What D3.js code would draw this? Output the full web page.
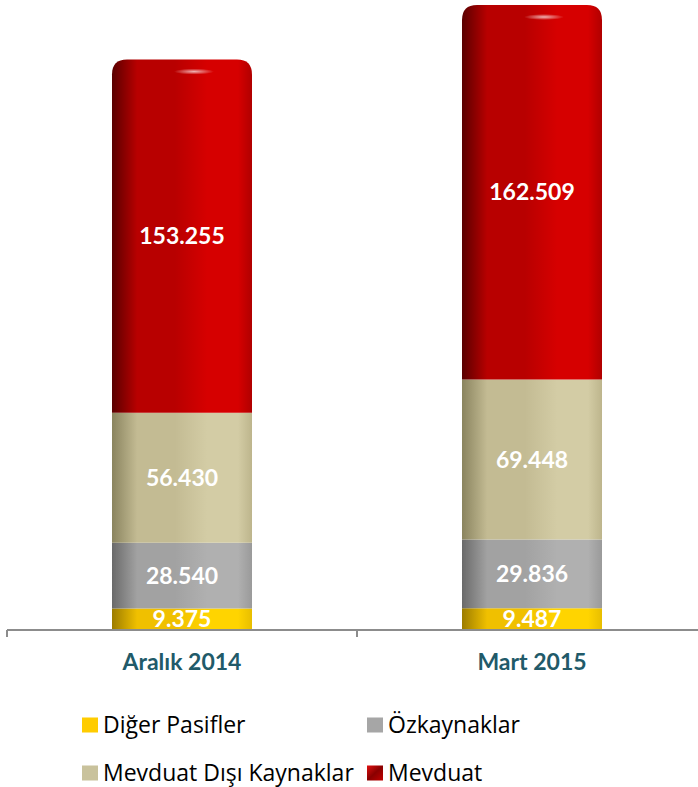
<!DOCTYPE html>
<html>
<head>
<meta charset="utf-8">
<script src="https://cdn.jsdelivr.net/npm/d3@7"></script>
<style>
  body { margin: 0; background: #fff; }
  svg { display: block; }
</style>
</head>
<body>
<div id="chart"></div>
<script>
var categories = ["Aralık 2014", "Mart 2015"],
series = ["Diğer Pasifler", "Özkaynaklar", "Mevduat Dışı Kaynaklar", "Mevduat"],
digerPasifler = [9375, 9487],
ozkaynaklar = [28540, 29836],
mevduatDisi = [56430, 69448],
mevduat = [153255, 162509],
labels = [["9.375", "9.487"], ["28.540", "29.836"], ["56.430", "69.448"], ["153.255", "162.509"]];

var W = 698, H = 787,
BASE_Y = 630,
TOP_Y = 5,
BAR_W = 140,
AXIS_COLOR = "#8c8c8c",
// dark edge, base, light, right edge
SHADES = [
  ["#9c7c00", "#f0c000", "#ffd400", "#e8be00"],
  ["#6a6a6a", "#a2a2a2", "#b0b0b0", "#9a9a9a"],
  ["#8a845f", "#c3bb93", "#d3cca5", "#bdb58c"],
  ["#5a0000", "#b80000", "#d60000", "#b00000"]
],
LEGEND_FILL = ["#ffcc00", "#a6a6a6", "#c9c29c", "url(#leg-red)"];

var values = [digerPasifler, ozkaynaklar, mevduatDisi, mevduat];

var rows = categories.map(function(c, i) {
  var r = { cat: c };
  series.forEach(function(s, j) { r[s] = values[j][i]; });
  return r;
});
var stacked = d3.stack().keys(series)(rows);

var x = d3.scaleBand().domain(categories).range([7, 707]);
var y = d3.scaleLinear()
  .domain([0, d3.max(rows, function(r) { return d3.sum(series, function(s) { return r[s]; }); })])
  .range([BASE_Y, TOP_Y]);

var svg = d3.select("#chart").append("svg")
  .attr("width", W)
  .attr("height", H);

var defs = svg.append("defs");
SHADES.forEach(function(sh, j) {
  var g = defs.append("linearGradient").attr("id", "grad" + j)
    .attr("x1", "0%").attr("x2", "100%").attr("y1", "0%").attr("y2", "0%");
  [[0, sh[0]], [0.18, sh[1]], [0.45, sh[1]], [0.68, sh[2]], [0.9, sh[2]], [1, sh[3]]]
    .forEach(function(st) {
      g.append("stop").attr("offset", st[0]).attr("stop-color", st[1]);
    });
});
var lr = defs.append("linearGradient").attr("id", "leg-red")
  .attr("x1", "0%").attr("x2", "100%").attr("y1", "0%").attr("y2", "100%");
lr.append("stop").attr("offset", 0).attr("stop-color", "#e01010");
lr.append("stop").attr("offset", 0.5).attr("stop-color", "#8a0000");
lr.append("stop").attr("offset", 1).attr("stop-color", "#c00000");
var hl = defs.append("radialGradient").attr("id", "glare");
hl.append("stop").attr("offset", 0).attr("stop-color", "#fff").attr("stop-opacity", 0.7);
hl.append("stop").attr("offset", 1).attr("stop-color", "#fff").attr("stop-opacity", 0);
defs.append("filter").attr("id", "soft")
  .append("feGaussianBlur").attr("stdDeviation", 0.6);

function barX(cat) {
  return x(cat) + x.bandwidth() / 2 - BAR_W / 2;
}

var layer = svg.selectAll("g.layer")
  .data(stacked)
  .enter().append("g")
  .attr("class", "layer");

layer.selectAll("path")
  .data(function(d, j) { return d.map(function(p) { return { p: p, j: j }; }); })
  .enter().append("path")
  .attr("fill", function(d) { return "url(#grad" + d.j + ")"; })
  .attr("filter", "url(#soft)")
  .attr("d", function(d) {
    var x0 = barX(d.p.data.cat), x1 = x0 + BAR_W,
    yt = y(d.p[1]), yb = y(d.p[0]);
    if (d.j === series.length - 1) {
      var r = 15;
      return "M" + x0 + "," + yb + "V" + (yt + r) +
        "Q" + x0 + "," + yt + " " + (x0 + r) + "," + yt +
        "H" + (x1 - r) + "Q" + x1 + "," + yt + " " + x1 + "," + (yt + r) +
        "V" + yb + "Z";
    }
    return "M" + x0 + "," + yb + "V" + yt + "H" + x1 + "V" + yb + "Z";
  });

// small glare on the cylinder tops
svg.selectAll("ellipse.glare")
  .data(stacked[series.length - 1])
  .enter().append("ellipse")
  .attr("class", "glare")
  .attr("cx", function(d) { return x(d.data.cat) + x.bandwidth() / 2 + 12; })
  .attr("cy", function(d) { return y(d[1]) + 12; })
  .attr("rx", 20)
  .attr("ry", 3)
  .attr("fill", "url(#glare)");

// value labels
layer.selectAll("text")
  .data(function(d, j) { return d.map(function(p, i) { return { p: p, j: j, i: i }; }); })
  .enter().append("text")
  .attr("x", function(d) { return x(d.p.data.cat) + x.bandwidth() / 2; })
  .attr("y", function(d) { return (y(d.p[0]) + y(d.p[1])) / 2; })
  .attr("dy", "0.36em")
  .attr("text-anchor", "middle")
  .style("font-family", "Lato, 'Open Sans', sans-serif")
  .style("font-weight", "bold")
  .style("font-size", "23px")
  .style("fill", "#fff")
  .text(function(d) { return labels[d.j][d.i]; });

// axis
svg.append("line")
  .attr("x1", x.range()[0]).attr("x2", W)
  .attr("y1", BASE_Y).attr("y2", BASE_Y)
  .style("stroke", AXIS_COLOR)
  .style("stroke-width", 2);
svg.selectAll("line.tick")
  .data(categories.concat([null]))
  .enter().append("line")
  .attr("class", "tick")
  .attr("x1", function(d) { return d === null ? x.range()[1] : x(d); })
  .attr("x2", function(d) { return d === null ? x.range()[1] : x(d); })
  .attr("y1", BASE_Y).attr("y2", BASE_Y + 7)
  .style("stroke", AXIS_COLOR)
  .style("stroke-width", 2);

svg.selectAll("text.cat")
  .data(categories)
  .enter().append("text")
  .attr("class", "cat")
  .attr("x", function(d) { return x(d) + x.bandwidth() / 2; })
  .attr("y", 670)
  .attr("text-anchor", "middle")
  .style("font-family", "Lato, 'Open Sans', sans-serif")
  .style("font-weight", "bold")
  .style("font-size", "23px")
  .style("fill", "#215a69")
  .text(function(d) { return d; });

// legend
var legPos = [[82, 725], [367, 725], [82, 773], [367, 773]];
var leg = svg.selectAll("g.leg")
  .data(series)
  .enter().append("g")
  .attr("class", "leg")
  .attr("transform", function(d, i) { return "translate(" + legPos[i][0] + "," + legPos[i][1] + ")"; });
leg.append("rect")
  .attr("x", 0).attr("y", -7.5)
  .attr("width", 16).attr("height", 15)
  .attr("fill", function(d, i) { return LEGEND_FILL[i]; });
leg.append("text")
  .attr("x", 21)
  .attr("dy", "0.36em")
  .style("font-family", "'Open Sans', sans-serif")
  .style("font-size", "23px")
  .style("fill", "#000")
  .text(function(d) { return d; });
</script>
</body>
</html>
